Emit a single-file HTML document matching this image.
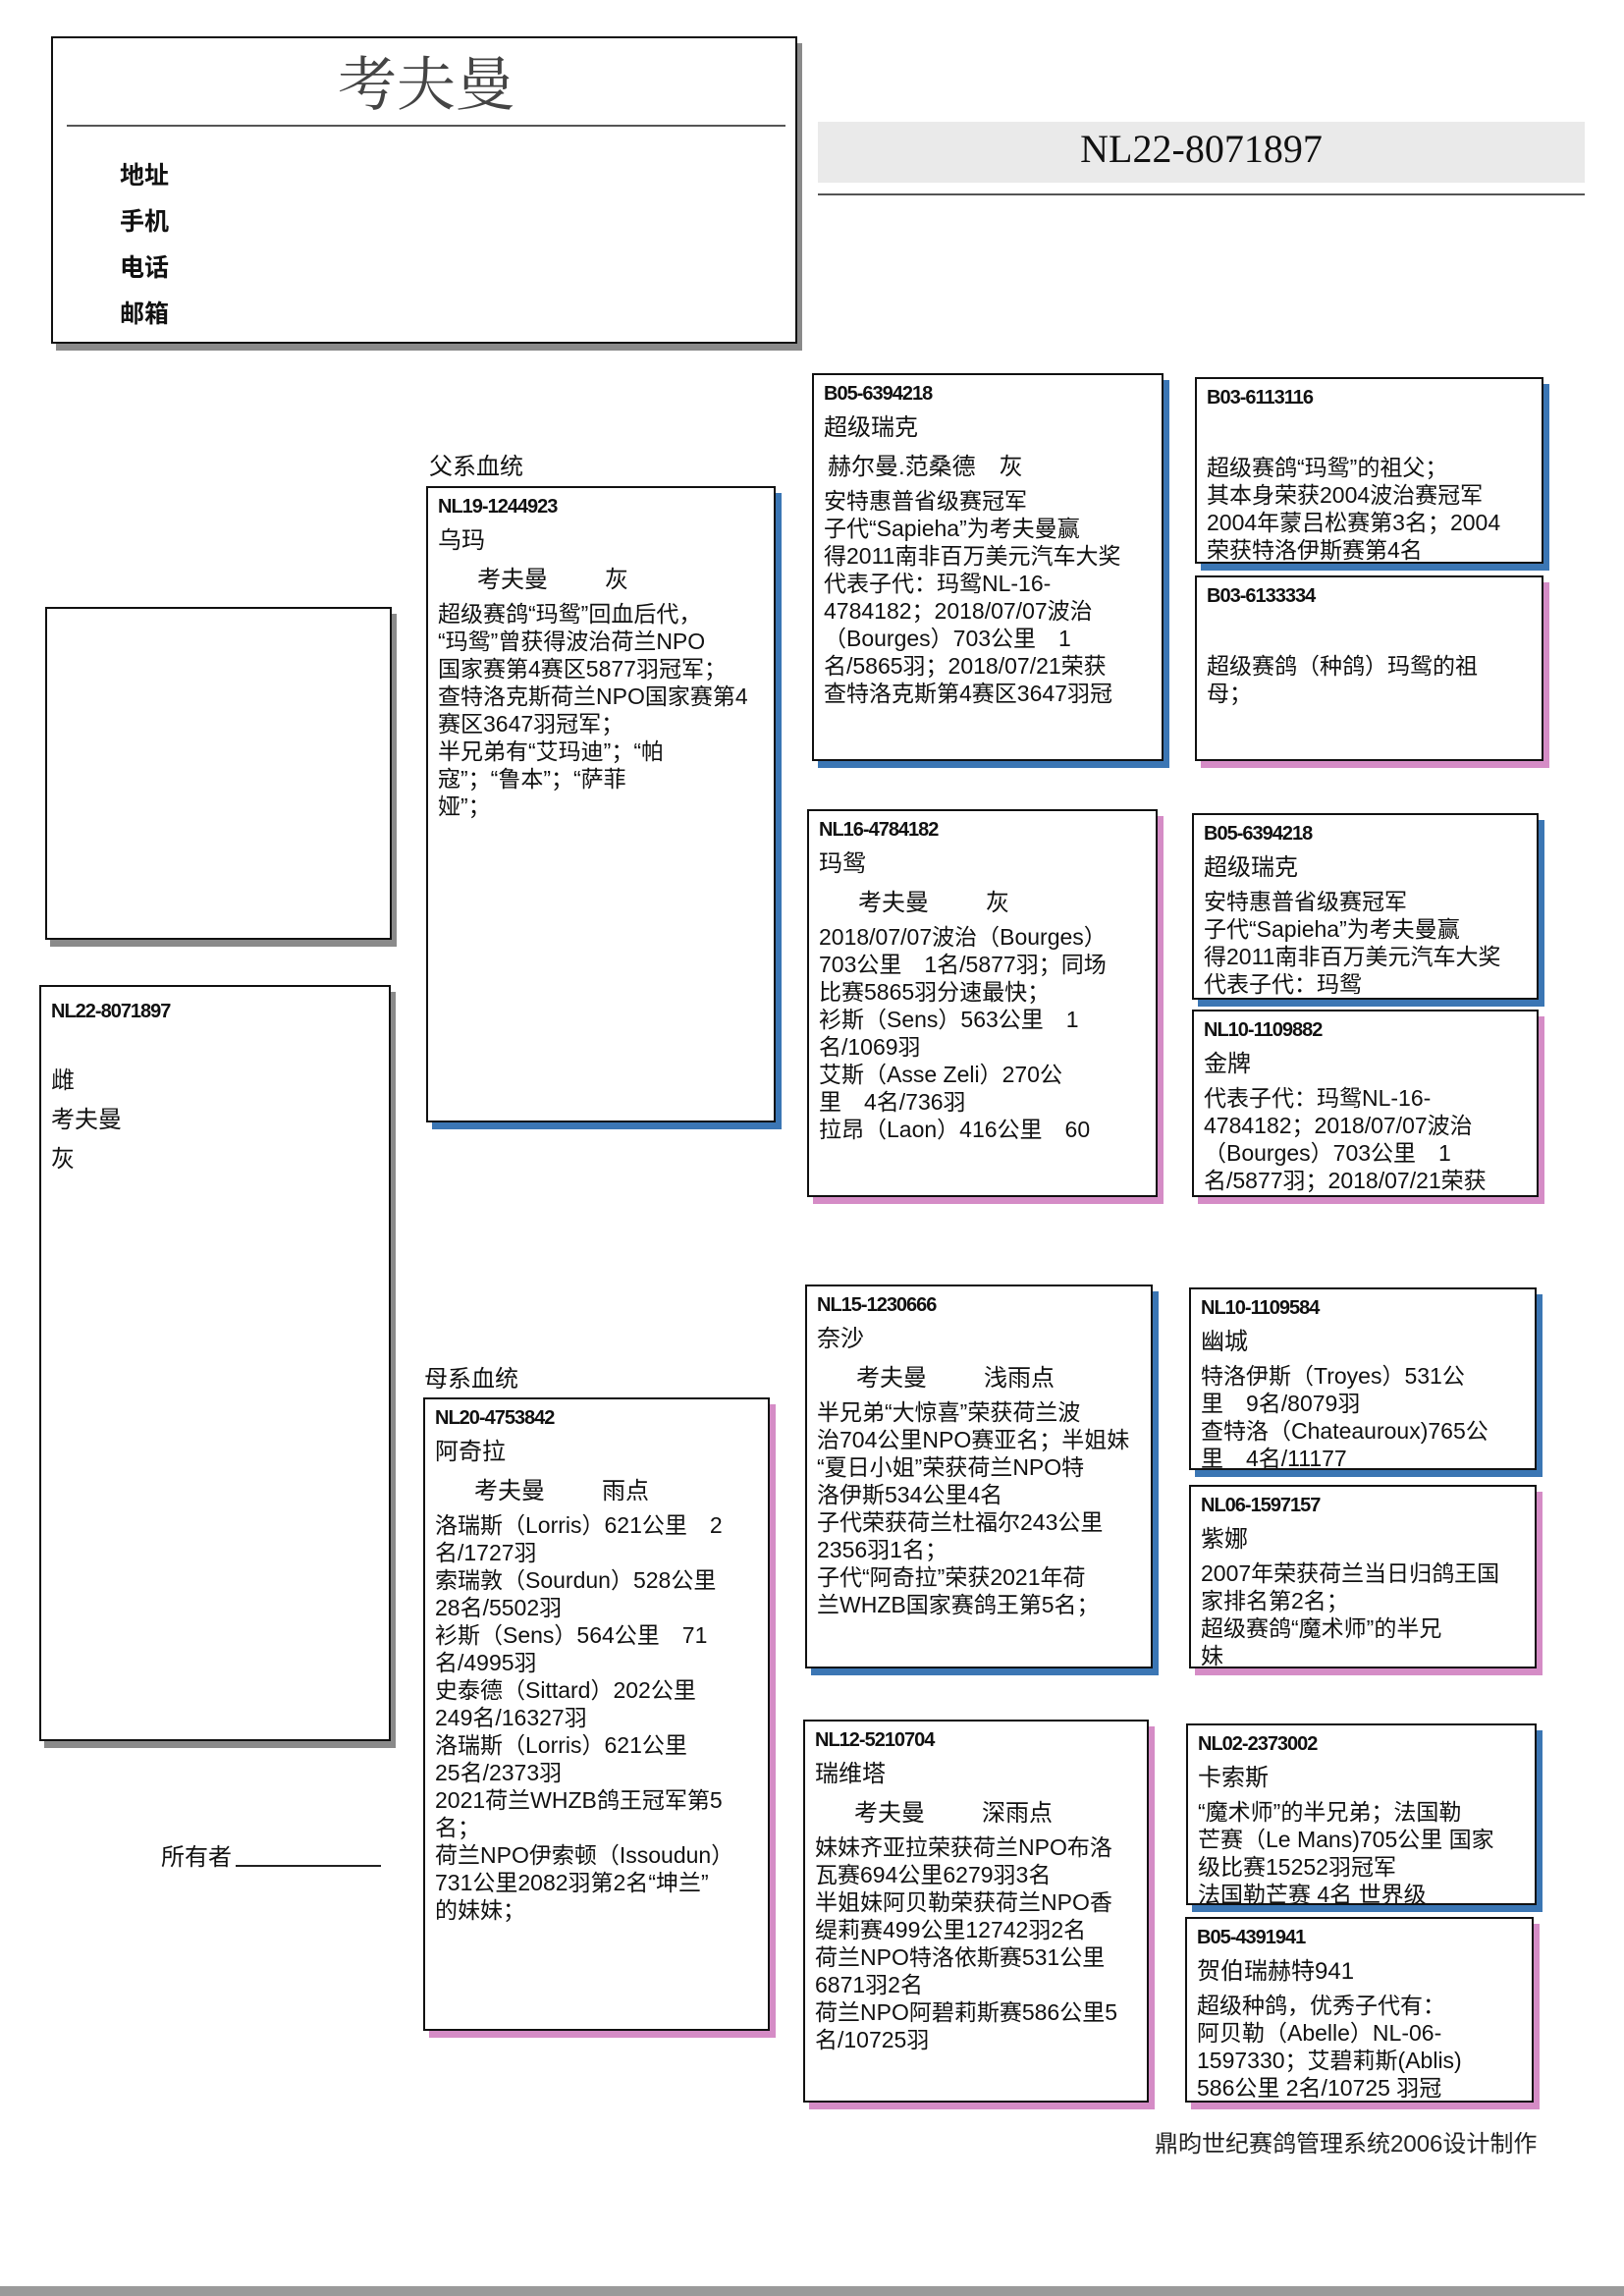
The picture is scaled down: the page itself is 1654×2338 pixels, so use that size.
<!DOCTYPE html>
<html><head><meta charset="utf-8">
<style>
html,body{margin:0;padding:0;background:#fff;}
body{width:1654px;height:2338px;position:relative;overflow:hidden;font-family:"Liberation Sans","Noto Sans CJK SC",sans-serif;color:#111;}
.a{position:absolute;}
.bx{position:absolute;border:2px solid #111;background:#fff;overflow:hidden;box-sizing:border-box;padding:4px 10px;white-space:nowrap;}
.bl{box-shadow:6px 7px 0 #3b76b4;}
.pk{box-shadow:6px 7px 0 #d58cc6;}
.gr{box-shadow:5px 7px 0 #8a8a8a;}
.id{font-weight:bold;font-size:20px;line-height:30px;letter-spacing:-1px;}
.nm{font-size:24px;line-height:40px;}
.ow{font-size:24px;line-height:40px;padding-left:40px;}
.ow span{display:inline-block;width:130px;}
.tx{font-size:23px;line-height:28px;}
</style></head><body>

<div class="bx gr" style="left:52px;top:37px;width:760px;height:313px;padding:0;">
  <div class="a" style="left:0;width:760px;top:0px;text-align:center;font-size:60px;color:#444;font-family:'Liberation Serif','Noto Serif CJK SC',serif;">考夫曼</div>
  <div class="a" style="left:14px;top:88px;width:732px;border-top:2px solid #555;"></div>
  <div class="a" style="left:68px;top:117px;font-size:25px;font-weight:bold;line-height:47px;">地址<br>手机<br>电话<br>邮箱</div>
</div>

<div class="a" style="left:833px;top:124px;width:781px;height:62px;background:#eaeaea;"></div>
<div class="a" style="left:833px;top:128px;width:781px;text-align:center;font-size:40px;font-family:'Liberation Serif',serif;">NL22-8071897</div>
<div class="a" style="left:833px;top:197px;width:781px;border-top:2px solid #555;"></div>

<div class="bx gr" style="left:46px;top:618px;width:353px;height:339px;"></div>

<div class="bx gr" style="left:40px;top:1003px;width:358px;height:770px;padding:10px;">
  <div class="id">NL22-8071897</div>
  <div class="nm" style="margin-top:36px;">雌<br>考夫曼<br>灰</div>
</div>

<div class="a" style="left:437px;top:455px;font-size:24px;">父系血统</div>
<div class="bx bl" style="left:434px;top:495px;width:356px;height:648px;">
  <div class="id">NL19-1244923</div>
  <div class="nm">乌玛</div>
  <div class="ow"><span>考夫曼</span>灰</div>
  <div class="tx">超级赛鸽“玛鸳”回血后代，<br>“玛鸳”曾获得波治荷兰NPO<br>国家赛第4赛区5877羽冠军；<br>查特洛克斯荷兰NPO国家赛第4<br>赛区3647羽冠军；<br>半兄弟有“艾玛迪”；“帕<br>寇”；“鲁本”；“萨菲<br>娅”；</div>
</div>

<div class="a" style="left:432px;top:1384px;font-size:24px;">母系血统</div>
<div class="bx pk" style="left:431px;top:1423px;width:353px;height:645px;">
  <div class="id">NL20-4753842</div>
  <div class="nm">阿奇拉</div>
  <div class="ow"><span>考夫曼</span>雨点</div>
  <div class="tx">洛瑞斯（Lorris）621公里　2<br>名/1727羽<br>索瑞敦（Sourdun）528公里<br>28名/5502羽<br>衫斯（Sens）564公里　71<br>名/4995羽<br>史泰德（Sittard）202公里<br>249名/16327羽<br>洛瑞斯（Lorris）621公里<br>25名/2373羽<br>2021荷兰WHZB鸽王冠军第5<br>名；<br>荷兰NPO伊索顿（Issoudun）<br>731公里2082羽第2名“坤兰”<br>的妹妹；</div>
</div>

<div class="bx bl" style="left:827px;top:380px;width:358px;height:395px;">
  <div class="id">B05-6394218</div>
  <div class="nm">超级瑞克</div>
  <div class="nm" style="padding-left:4px;">赫尔曼.范桑德　灰</div>
  <div class="tx">安特惠普省级赛冠军<br>子代“Sapieha”为考夫曼赢<br>得2011南非百万美元汽车大奖<br>代表子代：玛鸳NL-16-<br>4784182；2018/07/07波治<br>（Bourges）703公里　1<br>名/5865羽；2018/07/21荣获<br>查特洛克斯第4赛区3647羽冠</div>
</div>

<div class="bx bl" style="left:1217px;top:384px;width:355px;height:190px;">
  <div class="id">B03-6113116</div>
  <div class="tx" style="margin-top:42px;">超级赛鸽“玛鸳”的祖父；<br>其本身荣获2004波治赛冠军<br>2004年蒙吕松赛第3名；2004<br>荣获特洛伊斯赛第4名</div>
</div>
<div class="bx pk" style="left:1217px;top:586px;width:355px;height:189px;">
  <div class="id">B03-6133334</div>
  <div class="tx" style="margin-top:42px;">超级赛鸽（种鸽）玛鸳的祖<br>母；</div>
</div>

<div class="bx pk" style="left:822px;top:824px;width:357px;height:395px;">
  <div class="id">NL16-4784182</div>
  <div class="nm">玛鸳</div>
  <div class="ow"><span>考夫曼</span>灰</div>
  <div class="tx">2018/07/07波治（Bourges）<br>703公里　1名/5877羽；同场<br>比赛5865羽分速最快；<br>衫斯（Sens）563公里　1<br>名/1069羽<br>艾斯（Asse Zeli）270公<br>里　4名/736羽<br>拉昂（Laon）416公里　60</div>
</div>

<div class="bx bl" style="left:1214px;top:828px;width:353px;height:190px;">
  <div class="id">B05-6394218</div>
  <div class="nm">超级瑞克</div>
  <div class="tx">安特惠普省级赛冠军<br>子代“Sapieha”为考夫曼赢<br>得2011南非百万美元汽车大奖<br>代表子代：玛鸳</div>
</div>
<div class="bx pk" style="left:1214px;top:1028px;width:353px;height:191px;">
  <div class="id">NL10-1109882</div>
  <div class="nm">金牌</div>
  <div class="tx">代表子代：玛鸳NL-16-<br>4784182；2018/07/07波治<br>（Bourges）703公里　1<br>名/5877羽；2018/07/21荣获</div>
</div>

<div class="bx bl" style="left:820px;top:1308px;width:354px;height:391px;">
  <div class="id">NL15-1230666</div>
  <div class="nm">奈沙</div>
  <div class="ow"><span>考夫曼</span>浅雨点</div>
  <div class="tx">半兄弟“大惊喜”荣获荷兰波<br>治704公里NPO赛亚名；半姐妹<br>“夏日小姐”荣获荷兰NPO特<br>洛伊斯534公里4名<br>子代荣获荷兰杜福尔243公里<br>2356羽1名；<br>子代“阿奇拉”荣获2021年荷<br>兰WHZB国家赛鸽王第5名；</div>
</div>

<div class="bx bl" style="left:1211px;top:1311px;width:354px;height:186px;">
  <div class="id">NL10-1109584</div>
  <div class="nm">幽城</div>
  <div class="tx">特洛伊斯（Troyes）531公<br>里　9名/8079羽<br>查特洛（Chateauroux)765公<br>里　4名/11177</div>
</div>
<div class="bx pk" style="left:1211px;top:1512px;width:354px;height:187px;">
  <div class="id">NL06-1597157</div>
  <div class="nm">紫娜</div>
  <div class="tx">2007年荣获荷兰当日归鸽王国<br>家排名第2名；<br>超级赛鸽“魔术师”的半兄<br>妹</div>
</div>

<div class="bx pk" style="left:818px;top:1751px;width:352px;height:390px;">
  <div class="id">NL12-5210704</div>
  <div class="nm">瑞维塔</div>
  <div class="ow"><span>考夫曼</span>深雨点</div>
  <div class="tx">妹妹齐亚拉荣获荷兰NPO布洛<br>瓦赛694公里6279羽3名<br>半姐妹阿贝勒荣获荷兰NPO香<br>缇莉赛499公里12742羽2名<br>荷兰NPO特洛依斯赛531公里<br>6871羽2名<br>荷兰NPO阿碧莉斯赛586公里5<br>名/10725羽</div>
</div>

<div class="bx bl" style="left:1208px;top:1755px;width:357px;height:185px;">
  <div class="id">NL02-2373002</div>
  <div class="nm">卡索斯</div>
  <div class="tx">“魔术师”的半兄弟；法国勒<br>芒赛（Le Mans)705公里 国家<br>级比赛15252羽冠军<br>法国勒芒赛 4名 世界级</div>
</div>
<div class="bx pk" style="left:1207px;top:1952px;width:355px;height:189px;">
  <div class="id">B05-4391941</div>
  <div class="nm">贺伯瑞赫特941</div>
  <div class="tx">超级种鸽，优秀子代有：<br>阿贝勒（Abelle）NL-06-<br>1597330；艾碧莉斯(Ablis)<br>586公里 2名/10725 羽冠</div>
</div>

<div class="a" style="left:164px;top:1871px;font-size:24px;">所有者</div>
<div class="a" style="left:240px;top:1899px;width:148px;border-top:2px solid #222;"></div>

<div class="a" style="left:1176px;top:2163px;font-size:24px;color:#222;">鼎昀世纪赛鸽管理系统2006设计制作</div>
<div class="a" style="left:0;top:2328px;width:1654px;height:10px;background:#9a9a9a;"></div>
</body></html>
